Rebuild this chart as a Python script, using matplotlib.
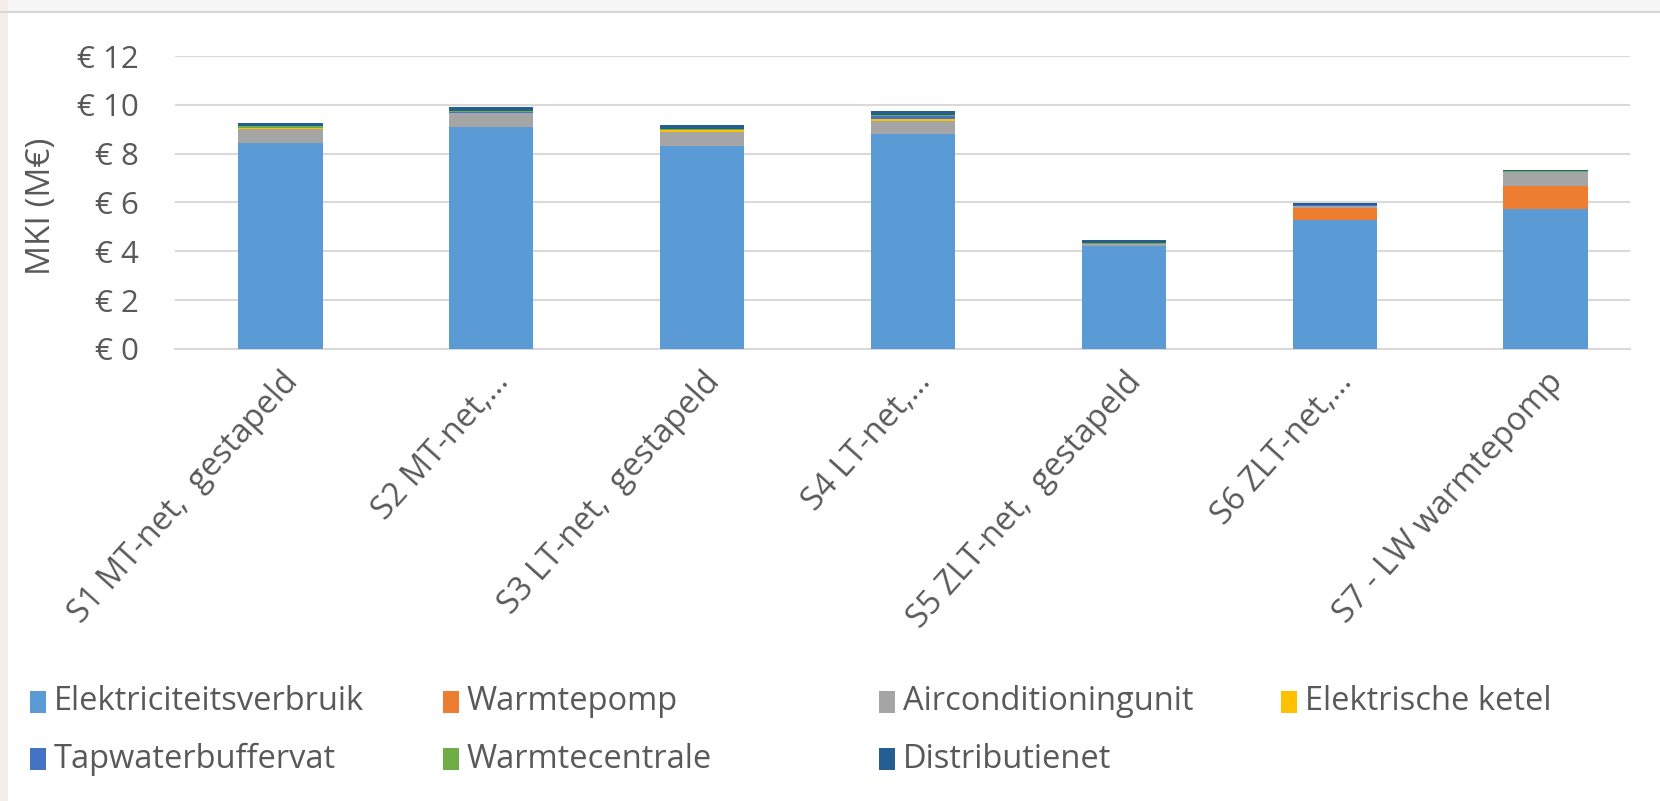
import matplotlib
matplotlib.use("Agg")
import matplotlib.pyplot as plt
from matplotlib.patches import Rectangle
import numpy as np

plt.rcParams['font.family'] = ['Open Sans', 'DejaVu Sans']

# Scenario's en kostenposten (MKI in M€)
scenarios = ['S1 MT-net,  gestapeld', 'S2 MT-net,...', 'S3 LT-net,  gestapeld',
             'S4 LT-net,...', 'S5 ZLT-net,  gestapeld', 'S6 ZLT-net,...',
             'S7 - LW warmtepomp']
elektriciteit = [8.45, 9.08, 8.30, 8.81, 4.20, 5.29, 5.73]
warmtepomp = [0.0, 0.0, 0.0, 0.0, 0.0, 0.49, 0.95]
airco = [0.55, 0.57, 0.57, 0.53, 0.10, 0.08, 0.55]
ketel = [0.05, 0.03, 0.08, 0.10, 0.0, 0.0, 0.0]
tapwater = [0.02, 0.02, 0.02, 0.10, 0.02, 0.02, 0.02]
warmtecentrale = [0.05, 0.06, 0.04, 0.03, 0.02, 0.02, 0.02]
distributienet = [0.12, 0.15, 0.18, 0.17, 0.13, 0.08, 0.05]

series = [
    ('Elektriciteitsverbruik', elektriciteit, '#5B9BD5'),
    ('Warmtepomp', warmtepomp, '#ED7D31'),
    ('Airconditioningunit', airco, '#A5A5A5'),
    ('Elektrische ketel', ketel, '#FFC000'),
    ('Tapwaterbuffervat', tapwater, '#4472C4'),
    ('Warmtecentrale', warmtecentrale, '#70AD47'),
    ('Distributienet', distributienet, '#255E91'),
]
yticks = [0, 2, 4, 6, 8, 10, 12]
ytick_labels = ['€ ' + str(v) for v in yticks]

text_color = '#595959'
W, H = 1660, 801
fig = plt.figure(figsize=(W / 100, H / 100), dpi=100)
fig.patch.set_facecolor('white')

# randen van de screenshot
fig.add_artist(Rectangle((0, 1 - 12 / H), 1, 12 / H, transform=fig.transFigure,
                         facecolor='#f7f7f7', edgecolor='none', zorder=0))
fig.add_artist(plt.Line2D([0, 1], [1 - 12 / H, 1 - 12 / H], transform=fig.transFigure,
                          color='#d6d6d6', lw=1.5))
fig.add_artist(Rectangle((0, 0), 8 / W, 1, transform=fig.transFigure,
                         facecolor='#f6ede8', edgecolor='none', zorder=0))

ax = fig.add_axes([175 / W, 1 - 349 / H, (1630 - 175) / W, (349 - 56) / H])
x = np.arange(len(scenarios))
bottom = np.zeros(len(scenarios))
for name, vals, color in series:
    ax.bar(x, vals, width=0.4, bottom=bottom, color=color, label=name, zorder=3)
    bottom += np.array(vals)

ax.set_ylim(0, 12)
ax.set_xlim(-0.5, 6.4)
ax.set_yticks(yticks)
ax.set_yticklabels(ytick_labels)
ax.yaxis.grid(True, color='#d9d9d9', lw=1.5, zorder=0)
ax.set_axisbelow(True)
for s in ['top', 'right', 'left']:
    ax.spines[s].set_visible(False)
ax.spines['bottom'].set_color('#d9d9d9')
ax.spines['bottom'].set_linewidth(1.5)
ax.tick_params(axis='y', length=0, labelsize=22.5, colors=text_color, pad=26)
ax.set_xticks(x)
ax.set_xticklabels(scenarios, rotation=48, ha='right', rotation_mode='anchor',
                   va='top')
ax.tick_params(axis='x', length=0, labelsize=23.5, colors=text_color, pad=12)
ax.set_ylabel('MKI (M€)', fontsize=24, color=text_color)
ax.yaxis.set_label_coords(-117 / (1630 - 175), (349 - 206) / (349 - 56))

# legenda, rij voor rij zoals in Excel
col_x = [30, 443, 879, 1281]
row_y = [702, 759]
for i, (name, vals, color) in enumerate(series):
    r, c = divmod(i, 4)
    x0 = col_x[c] / W
    y0 = 1 - row_y[r] / H
    fig.add_artist(Rectangle((x0, y0 - 11 / H), 16 / W, 22 / H, transform=fig.transFigure,
                             facecolor=color, edgecolor='none'))
    fig.text(x0 + 24 / W, y0, name, fontsize=23.5, color=text_color, va='center', ha='left')

fig.savefig('out.png', dpi=100)
